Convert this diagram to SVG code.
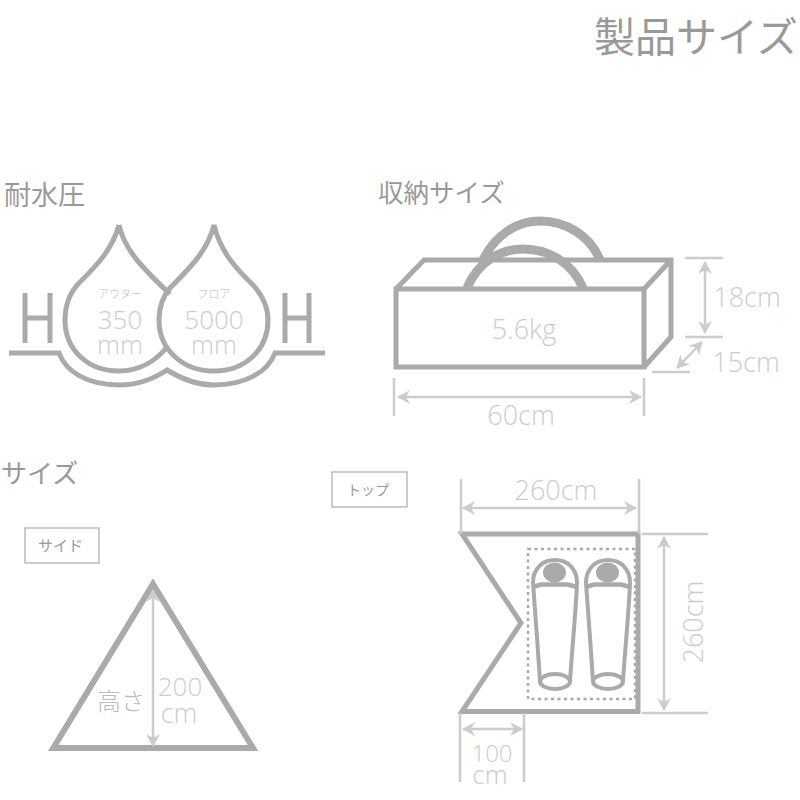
<svg xmlns="http://www.w3.org/2000/svg" width="800" height="800" viewBox="0 0 800 800">
<style>
.o{fill:none;stroke:#aaa;stroke-width:5;stroke-linejoin:miter}
.d{fill:none;stroke:#ccc;stroke-width:2.5}
.a{fill:none;stroke:#ccc;stroke-width:2.5;marker-start:url(#ah);marker-end:url(#ah)}
.h{font-family:"Noto Sans CJK JP",sans-serif;fill:#999;font-weight:400}
.n{font-family:"Open Sans",sans-serif;fill:#ccc;font-weight:300;text-anchor:middle}
.j{font-family:"Noto Sans CJK JP",sans-serif;fill:#bbb;font-weight:300;text-anchor:middle}
.b{fill:#fff;stroke:#aaa;stroke-width:1.2}
.s{fill:none;stroke:#aaa;stroke-width:4}
</style>
<defs>
<marker id="ah" markerUnits="userSpaceOnUse" markerWidth="16" markerHeight="16" refX="13" refY="8" orient="auto-start-reverse">
<path d="M1,1 L14,8 L1,15 L5,8Z" fill="#ccc"/>
</marker>
<g id="bag">
<path class="s" d="M540,681 C538,650 535,610 533,583 C533,568 543,560 555,560 C567,560 577,568 577,583 C576,610 572,650 570,681"/>
<ellipse cx="555" cy="681.5" rx="15" ry="7.5" class="s"/>
<ellipse cx="554.5" cy="572.5" rx="11.5" ry="10" fill="#aaa"/>
<path d="M533,587 L541,584.5 H568 L577,587" fill="none" stroke="#aaa" stroke-width="4.5"/>
</g>
</defs>
<g id="title"><text class="h" x="594" y="52" font-size="41">製品サイズ</text></g>
<g id="water">
<text class="h" x="4" y="205" font-size="27">耐水圧</text>
<path class="o" d="M119,225 C124,248 140,266 170,294 M119,225 C112,250 96,266 82,280 C70,291 65,305 65,320 C65,350 88,371 119,371 C138,371 155,362 167,347"/>
<path class="o" d="M214,225 C220,250 234,266 248,280 C260,291 268,305 268,320 C268,350 245,371 214,371 C183,371 159,350 159,320 C159,305 164,295 170,288 C190,268 208,250 214,225Z"/>
<path class="o" d="M9,353 H59 C66,372 88,385 119,385 C140,385 155,378 167,370 C180,378 195,385 214,385 C245,385 268,372 275,353 H325"/>
<path class="o" d="M25,293 V343 M50,293 V343 M25,318 H50 M285,293 V343 M309,293 V343 M285,318 H309"/>
<text class="j" x="120" y="298" font-size="11">アウター</text>
<text class="j" x="214" y="298" font-size="11">フロア</text>
<text class="n" x="120" y="329" font-size="26">350</text>
<text class="n" x="120" y="354" font-size="26">mm</text>
<text class="n" x="214" y="329" font-size="26">5000</text>
<text class="n" x="214" y="354" font-size="26">mm</text>
</g>
<g id="storage">
<text class="h" x="378" y="202" font-size="25.5">収納サイズ</text>
<path d="M483,260 C495,235 517,221 540,221 C565,221 590,235 600,260" fill="none" stroke="#aaa" stroke-width="9"/>
<path class="o" d="M396,289 L424,260 H671 V337 L644,367 M671,260 L644,289"/>
<path d="M467,288 C478,262 500,249 523,249 C548,249 572,262 583,288" fill="none" stroke="#aaa" stroke-width="9"/>
<rect class="o" x="396" y="289" width="248" height="78"/>
<text class="n" x="524" y="339" font-size="27">5.6kg</text>
</g>
<g id="side">
<text class="h" x="1" y="483" font-size="26">サイズ</text>
<rect class="b" x="25" y="528" width="74" height="35"/>
<text class="h" x="38" y="551" font-size="15">サイド</text>
<path d="M153,584 L253,748 H53.300Z" fill="none" stroke="#aaa" stroke-width="6"/>
<text class="j" x="121" y="710" font-size="24">高さ</text>
<text class="n" x="180" y="696" font-size="26">200</text>
<text class="n" x="179" y="723" font-size="27">cm</text>
</g>
<g id="top">
<rect class="b" x="332" y="472" width="75" height="35"/>
<text class="h" x="347" y="495" font-size="14">トップ</text>
<path d="M462,534 H638 V711.500 H462 L521,623Z" fill="none" stroke="#aaa" stroke-width="5"/>
<rect x="528" y="549" width="107" height="150" fill="none" stroke="#aaa" stroke-width="2.5" stroke-dasharray="3 3.5"/>
<use href="#bag"/>
<use href="#bag" x="53"/>
<text class="n" x="556" y="500" font-size="27">260cm</text>
<text class="n" transform="translate(703,622) rotate(-90)" font-size="27">260cm</text>
<text class="n" x="492" y="762" font-size="24">100</text>
<text class="n" x="490" y="784" font-size="26">cm</text>
</g>
<g id="connectors">
<path class="d" d="M685,258 H723 M685,337 H723 M652,372 H690 M394,378 V416 M644,378 V416"/>
<path class="d" d="M461,479 V534 M639,479 V534 M642,534 H708 M642,713 H708 M460,713 V782 M524,713 V782"/>
<path class="a" d="M705,262 V333"/>
<path class="a" d="M677,368 L702,342"/>
<path class="a" d="M398,397 H641"/>
<path class="a" d="M463,508 H636"/>
<path class="a" d="M664,537 V710"/>
<path class="a" d="M463,729 H522"/>
<path class="a" d="M153,590 V746"/>
</g>
<g id="labels">
<text class="n" x="747" y="307" font-size="27">18cm</text>
<text class="n" x="746" y="372" font-size="27">15cm</text>
<text class="n" x="521" y="425" font-size="27">60cm</text>
</g>
</svg>
